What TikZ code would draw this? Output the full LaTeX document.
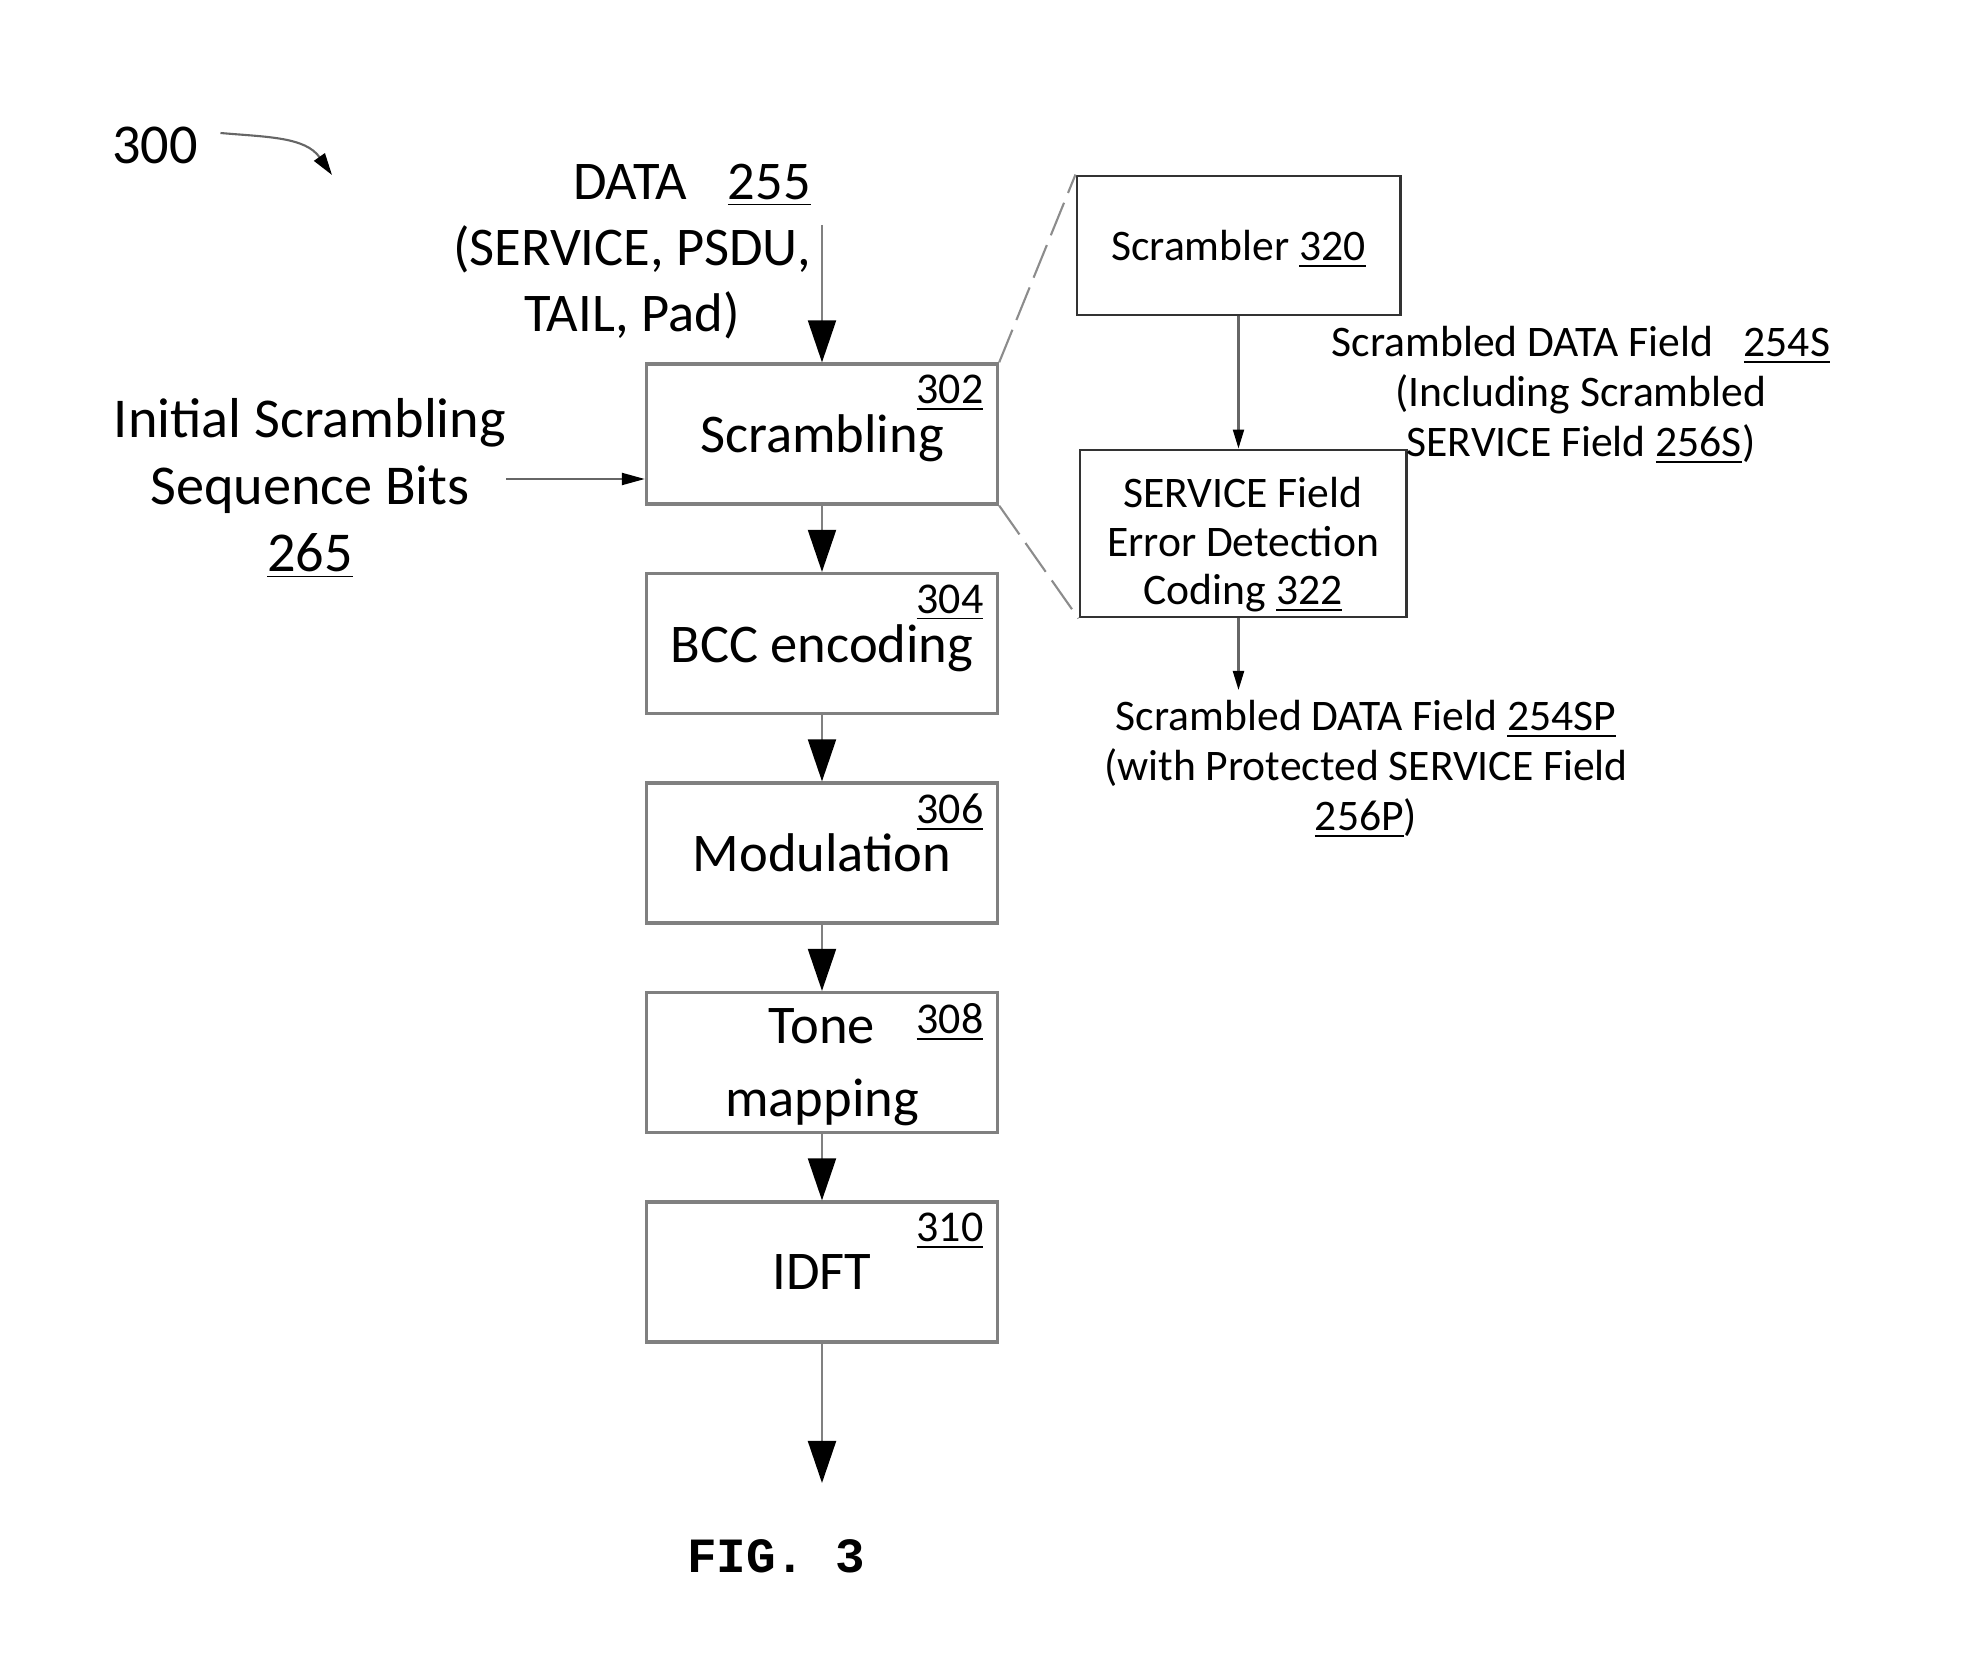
\documentclass[tikz,border=0pt]{standalone}
\usepackage{fontspec}
\setmainfont{Carlito}
\newfontfamily\figfont{Liberation Mono}
\usetikzlibrary{arrows.meta}

\tikzset{
  blk/.style={draw=black!50, line width=0.9pt, minimum width=3.51cm, minimum height=1.4cm,
    align=center, text depth=0pt, font=\fontsize{15.5}{20.8}\selectfont},
  rblk/.style={draw=black!80, line width=0.8pt, align=center, inner sep=0pt, text depth=0pt,
    font=\fontsize{12.4}{13.8}\selectfont},
  num/.style={anchor=north east, inner sep=0pt, font=\fontsize{12.5}{14}\selectfont},
  side/.style={align=center, anchor=north, inner sep=0pt},
  flow/.style={draw=black!50, line width=0.6pt, -{Triangle[width=0.28cm, length=0.42cm, color=black]}},
  sflow/.style={draw=black!60, line width=0.6pt, -{Triangle[width=0.11cm, length=0.19cm, color=black]}},
  zoom/.style={draw=black!45, line width=0.6pt, dash pattern={on 10pt off 3pt}},
}

\begin{document}
\begin{tikzpicture}[x=0.01cm, y=-0.01cm]
  \useasboundingbox (0,0) rectangle (1962,1667);

  \foreach \n/\txt [count=\i from 0] in {302/Scrambling, 304/BCC encoding, 306/Modulation, 308/{Tone\\mapping}, 310/IDFT} {
    \node[blk] (s\n) at (822, {434+209.5*\i}) {\txt};
    \node[num] (n\n) at ([shift={(-15,12)}]s\n.north east) {\underline{\n}};
  }
  \foreach \a/\b in {302/304, 304/306, 306/308, 308/310}
    \draw[flow] (s\a) -- (s\b);
  \coordinate (out) at (822,1483);
  \draw[flow] (s310) -- (out);

  \node[font=\fontsize{16}{18}\selectfont, inner sep=0pt] (l300) at (155,145) {300};
  \coordinate (p300) at (332,175);
  \draw[black!60, line width=0.6pt, -{Triangle[width=0.13cm, length=0.22cm, color=black]}]
    ([shift={(22,-12)}]l300.east) to[out=-5, in=125] (p300);

  \node[side, font=\fontsize{15.5}{18.8}\selectfont] (data) at (632,163)
    {\hspace{1.2cm}DATA\hspace{0.75em}\underline{255}\\(SERVICE, PSDU,\\TAIL, Pad)};
  \coordinate (datain) at (822,225);
  \draw[flow] (datain) -- (s302);

  \node[side, font=\fontsize{16}{19}\selectfont] (init) at (310,398)
    {Initial Scrambling\\Sequence Bits\\\underline{265}};
  \coordinate (seqin) at (506,479);
  \draw[sflow, -{Triangle[width=0.12cm, length=0.23cm, color=black]}] (seqin) -- (seqin -| s302.west);

  \node[rblk, minimum width=3.23cm, minimum height=1.39cm] (scr) at (1238.5,245.5) {Scrambler \underline{320}};
  \node[rblk, minimum width=3.26cm, minimum height=1.67cm] (sed) at (1243,533.5)
    {\rule{0pt}{13pt}SERVICE Field\\Error Detection\\Coding \underline{322}};
  \draw[zoom] (s302.north east) -- (scr.north west);
  \draw[zoom] (s302.south east) -- (sed.south west);

  \node[side, font=\fontsize{12.4}{14.2}\selectfont] (s254) at (1581,326)
    {Scrambled DATA Field\hspace{0.7em}\underline{254S}\\(Including Scrambled\\SERVICE Field \underline{256S})};
  \node[side, font=\fontsize{12.4}{14.2}\selectfont] (sp) at (1366,700)
    {Scrambled DATA Field \underline{254SP}\\(with Protected SERVICE Field\\\underline{256P})};
  \draw[sflow] (scr) -- (scr.south |- sed.north);
  \draw[sflow] (scr.south |- sed.south) -- ([yshift=0.1cm]scr.south |- sp.north);

  \node[font=\figfont\bfseries\fontsize{14}{16}\selectfont, inner sep=0pt] (fig) at (776,1556) {FIG. 3};
\end{tikzpicture}
\end{document}
